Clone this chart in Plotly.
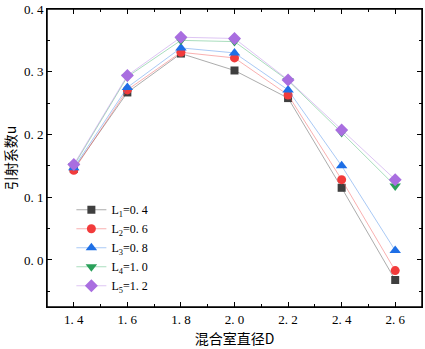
import plotly.graph_objects as go

D = [1.4, 1.6, 1.8, 2.0, 2.2, 2.4, 2.6]
L1 = [0.145, 0.267, 0.329, 0.302, 0.258, 0.115, -0.032]
L2 = [0.143, 0.271, 0.331, 0.322, 0.263, 0.128, -0.017]
L3 = [0.147, 0.275, 0.338, 0.330, 0.271, 0.150, 0.015]
L4 = [0.150, 0.292, 0.350, 0.348, 0.286, 0.203, 0.118]
L5 = [0.152, 0.294, 0.355, 0.353, 0.287, 0.207, 0.128]
names = ["L<sub>1</sub>=0. 4", "L<sub>2</sub>=0. 6", "L<sub>3</sub>=0. 8",
         "L<sub>4</sub>=1. 0", "L<sub>5</sub>=1. 2"]
x_ticks = [1.4, 1.6, 1.8, 2.0, 2.2, 2.4, 2.6]
x_ticklabels = ["1. 4", "1. 6", "1. 8", "2. 0", "2. 2", "2. 4", "2. 6"]
y_ticks = [0.0, 0.1, 0.2, 0.3, 0.4]
y_ticklabels = ["0. 0", "0. 1", "0. 2", "0. 3", "0. 4"]

series = [L1, L2, L3, L4, L5]
marker_colors = ["#3f3f3f", "#f23b3b", "#1e6fe6", "#2aa05a", "#a96ee0"]
line_colors = ["rgba(90,90,90,0.5)", "rgba(242,80,80,0.45)", "rgba(40,120,230,0.4)",
               "rgba(40,170,90,0.4)", "rgba(170,110,225,0.4)"]
symbols = ["square", "circle", "triangle-up", "triangle-down", "diamond"]
sizes = [8, 9, 10, 10, 10]

fig = go.Figure()
for s, n, mc, lc, sym, sz in zip(series, names, marker_colors, line_colors, symbols, sizes):
    fig.add_trace(go.Scatter(
        x=D, y=s, name=n, mode="lines+markers",
        line=dict(color=lc, width=1),
        marker=dict(symbol=sym, color=mc, size=sz, line=dict(width=0)),
    ))

font_num = "Liberation Serif"

fig.update_layout(
    width=425, height=349,
    margin=dict(l=47, r=2, t=5, b=42),
    paper_bgcolor="white", plot_bgcolor="white",
    showlegend=True,
    legend=dict(x=0.065, y=0.375, xanchor="left", yanchor="top",
                bgcolor="rgba(0,0,0,0)", tracegroupgap=0,
                font=dict(family=font_num, size=12, color="black"),
                itemwidth=30),
    shapes=[dict(type="rect", xref="paper", yref="paper", x0=0, x1=1, y0=0, y1=1,
                 line=dict(color="black", width=1.5), fillcolor="rgba(0,0,0,0)",
                 layer="above")],
)
fig.update_xaxes(
    range=[1.3, 2.7], tickvals=x_ticks, ticktext=x_ticklabels,
    title=dict(text="混合室直径D", standoff=8,
               font=dict(family="Noto Sans CJK SC", size=14, color="black")),
    showline=True, linecolor="black", linewidth=1, mirror="ticks",
    ticks="inside", ticklen=5, tickwidth=1.2, tickcolor="black",
    showgrid=False, zeroline=False, ticklabeloverflow="allow",
    tickfont=dict(family=font_num, size=13, color="black"),
    minor=dict(ticks="inside", ticklen=3, tickwidth=1, tickcolor="black", dtick=0.1),
)
fig.update_yaxes(
    range=[-0.075, 0.4], tickvals=y_ticks, ticktext=y_ticklabels,
    title=dict(text="引射系数u", standoff=6,
               font=dict(family="Noto Sans CJK SC", size=14, color="black")),
    showline=True, linecolor="black", linewidth=1, mirror="ticks",
    ticks="inside", ticklen=5, tickwidth=1.2, tickcolor="black",
    showgrid=False, zeroline=False, ticklabeloverflow="allow",
    tickfont=dict(family=font_num, size=13, color="black"),
    minor=dict(ticks="inside", ticklen=3, tickwidth=1, tickcolor="black", dtick=0.05),
)

fig.write_html("out.html", config={"displayModeBar": False},
               post_script="document.body.style.margin='0';")
